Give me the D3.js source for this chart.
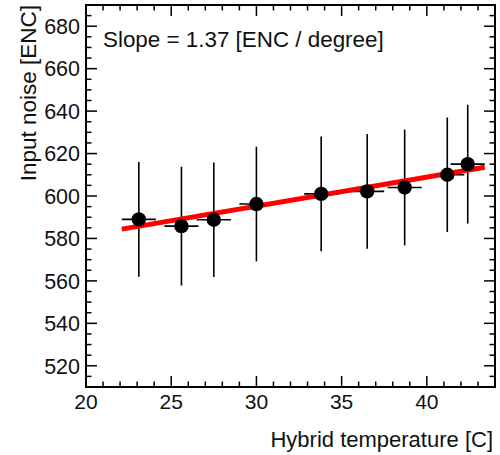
<!DOCTYPE html>
<html>
<head>
<meta charset="utf-8">
<script src="https://cdn.jsdelivr.net/npm/d3@7"></script>
<style>
  html, body { margin: 0; padding: 0; background: #fff; }
  svg { display: block; font-family: "Liberation Sans", Arial, Helvetica, sans-serif; }
</style>
</head>
<body>
<svg id="chart" width="500" height="455"></svg>
<script>
// ---- data ----
const temperatures = [23.1, 25.6, 27.5, 30.0, 33.8, 36.5, 38.7, 41.2, 42.4];
const temperatureErr = [1.0, 1.0, 1.0, 1.0, 1.0, 1.0, 1.0, 1.0, 1.0];
const noiseValues = [589.0, 585.8, 588.8, 596.2, 601.0, 602.2, 604.0, 610.0, 615.0];
const noiseErr = [27.0, 28.0, 27.0, 27.0, 27.0, 27.0, 27.3, 27.0, 28.0];
const fitSlope = 1.37;
const fitIntercept = 554.1;
const fitRange = [22.1, 43.4];
const xTicks = [20, 25, 30, 35, 40];
const yTicks = [520, 540, 560, 580, 600, 620, 640, 660, 680];
const xDomain = [20, 44];
const yDomain = [510, 690];
const slopeLabel = "Slope = 1.37 [ENC / degree]";
const xTitle = "Hybrid temperature [C]";
const yTitle = "Input noise [ENC]";

// ---- layout ----
const L = 86, R = 495, T = 5, B = 387;
const svg = d3.select("#chart");
const x = d3.scaleLinear().domain(xDomain).range([L, R]);
const y = d3.scaleLinear().domain(yDomain).range([B, T]);

const majorLen = 11, minorLen = 5.5;
const axisG = svg.append("g").attr("stroke", "#000").attr("stroke-width", 1.5);

// x ticks (bottom & top)
const xMinor = d3.range(21, 44, 1).filter(v => v % 5 !== 0);
xTicks.forEach(v => {
  axisG.append("line").attr("x1", x(v)).attr("x2", x(v)).attr("y1", B).attr("y2", B - majorLen);
  axisG.append("line").attr("x1", x(v)).attr("x2", x(v)).attr("y1", T).attr("y2", T + majorLen);
});
xMinor.forEach(v => {
  axisG.append("line").attr("x1", x(v)).attr("x2", x(v)).attr("y1", B).attr("y2", B - minorLen);
  axisG.append("line").attr("x1", x(v)).attr("x2", x(v)).attr("y1", T).attr("y2", T + minorLen);
});
// y ticks (left & right)
const yMinor = d3.range(515, 690, 5).filter(v => v % 20 !== 0);
yTicks.forEach(v => {
  axisG.append("line").attr("y1", y(v)).attr("y2", y(v)).attr("x1", L).attr("x2", L + majorLen);
  axisG.append("line").attr("y1", y(v)).attr("y2", y(v)).attr("x1", R).attr("x2", R - majorLen);
});
yMinor.forEach(v => {
  axisG.append("line").attr("y1", y(v)).attr("y2", y(v)).attr("x1", L).attr("x2", L + minorLen);
  axisG.append("line").attr("y1", y(v)).attr("y2", y(v)).attr("x1", R).attr("x2", R - minorLen);
});

// tick labels
svg.append("g").selectAll("text").data(xTicks).join("text")
  .attr("x", d => x(d)).attr("y", 409)
  .attr("text-anchor", "middle").attr("font-size", 21).attr("fill", "#111")
  .text(d => d);
svg.append("g").selectAll("text").data(yTicks).join("text")
  .attr("x", 80).attr("y", d => y(d)).attr("dy", "0.36em")
  .attr("text-anchor", "end").attr("font-size", 21.5).attr("fill", "#111")
  .text(d => d);

// axis titles
svg.append("text").attr("x", 493).attr("y", 447).attr("text-anchor", "end")
  .attr("font-size", 22).attr("fill", "#111").text(xTitle);
svg.append("text").attr("transform", "translate(36,5) rotate(-90)")
  .attr("text-anchor", "end").attr("font-size", 22.5).attr("fill", "#111").text(yTitle);

// data points
const pts = temperatures.map((t, i) => ({ t, te: temperatureErr[i], n: noiseValues[i], ne: noiseErr[i] }));
const eg = svg.append("g").attr("stroke", "#000").attr("stroke-width", 1.6);
eg.selectAll("line.v").data(pts).join("line").attr("class", "v")
  .attr("x1", d => x(d.t)).attr("x2", d => x(d.t))
  .attr("y1", d => y(d.n - d.ne)).attr("y2", d => y(d.n + d.ne));
eg.selectAll("line.h").data(pts).join("line").attr("class", "h")
  .attr("x1", d => x(d.t - d.te)).attr("x2", d => x(d.t + d.te))
  .attr("y1", d => y(d.n)).attr("y2", d => y(d.n));

// fit line
svg.append("line")
  .attr("x1", x(fitRange[0])).attr("y1", y(fitIntercept + fitSlope * fitRange[0]))
  .attr("x2", x(fitRange[1])).attr("y2", y(fitIntercept + fitSlope * fitRange[1]))
  .attr("stroke", "#ff0000").attr("stroke-width", 5);

svg.append("g").selectAll("circle").data(pts).join("circle")
  .attr("cx", d => x(d.t)).attr("cy", d => y(d.n)).attr("r", 7.2).attr("fill", "#000");

// frame
svg.append("rect").attr("x", L).attr("y", T).attr("width", R - L).attr("height", B - T)
  .attr("fill", "none").attr("stroke", "#000").attr("stroke-width", 2);

// annotation
svg.append("text").attr("x", 103).attr("y", 47).attr("font-size", 22.4).attr("fill", "#111").text(slopeLabel);
</script>
</body>
</html>
